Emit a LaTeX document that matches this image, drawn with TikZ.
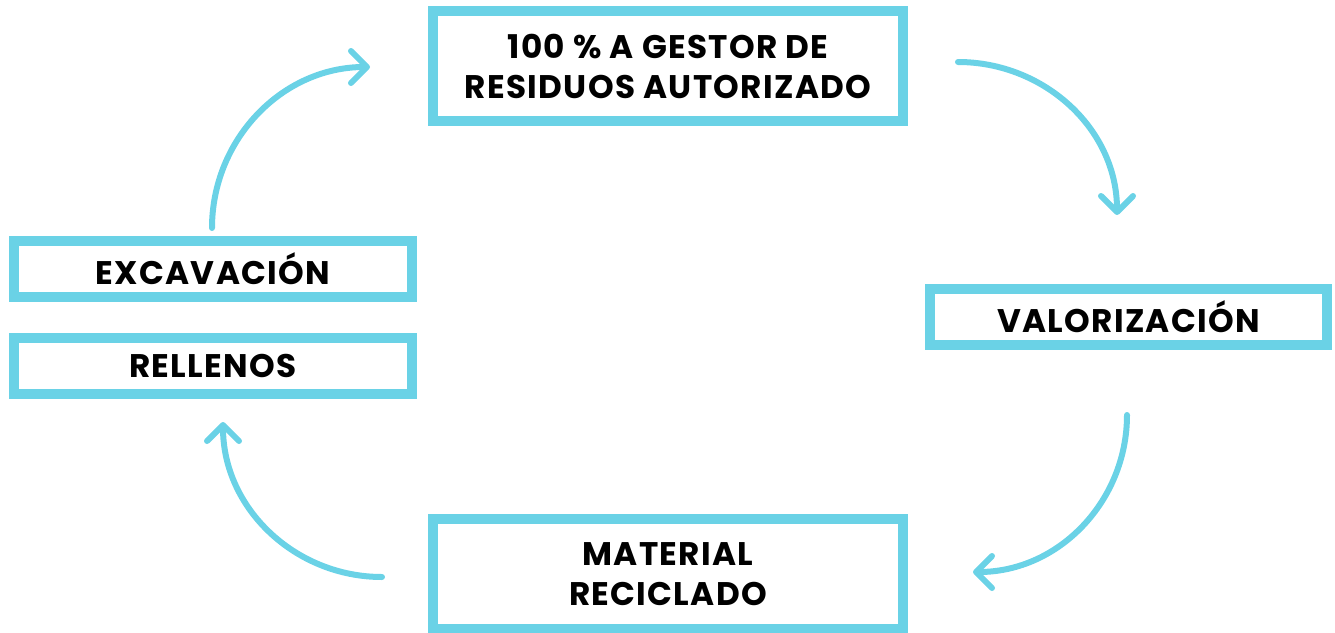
\documentclass[tikz,border=0pt]{standalone}
\usepackage{fontspec}
\setmainfont{Poppins}[LetterSpace=4]
\usepackage{xcolor}
\usetikzlibrary{arrows.meta, positioning}
\definecolor{cyanline}{RGB}{106,210,230}

\begin{document}
\begin{tikzpicture}[
    x=0.75pt, y=-0.75pt,
    box/.style={draw=cyanline, line width=7.5pt, rectangle, inner sep=0pt, align=center,
        font=\fontsize{24.5}{30}\selectfont\bfseries},
    cycle/.style={draw=cyanline, line width=4.5pt, line cap=round,
        -{Straight Barb[length=12pt, width=24pt, line cap=round, line join=round]}}
]
    \useasboundingbox (0,0) rectangle (1335,632);

    % Boxes
    \node[box, minimum width=352.5pt, minimum height=82.5pt] (gestor) at (668,66) {100 \% A GESTOR DE\\RESIDUOS AUTORIZADO};
    \node[box, minimum width=298.5pt, minimum height=42pt] (excav) at (213,269) {EXCAVACIÓN};
    \node[box, minimum width=298.5pt, minimum height=42pt] (rellenos) at (213,365.5) {RELLENOS};
    \node[box, minimum width=298pt, minimum height=42pt] (valor) at (1128.5,317) {VALORIZACIÓN};
    \node[box, minimum width=352.5pt, minimum height=82.5pt] (material) at (668,574) {MATERIAL\\RECICLADO};

    % Arrow ends
    \coordinate (a1) at (212,228);
    \coordinate (b1) at (370,67);
    \coordinate (a2) at (958,62);
    \coordinate (b2) at (1117,215);
    \coordinate (a3) at (1127,415);
    \coordinate (b3) at (973,572);
    \coordinate (a4) at (382,577);
    \coordinate (b4) at (223,422);

    % Cycle arrows
    \draw[cycle] (a1) to[out=90, in=180] (b1);
    \draw[cycle] (a2) to[out=0, in=90] (b2);
    \draw[cycle] (a3) to[out=-90, in=0] (b3);
    \draw[cycle] (a4) to[out=180, in=-90] (b4);
\end{tikzpicture}
\end{document}
